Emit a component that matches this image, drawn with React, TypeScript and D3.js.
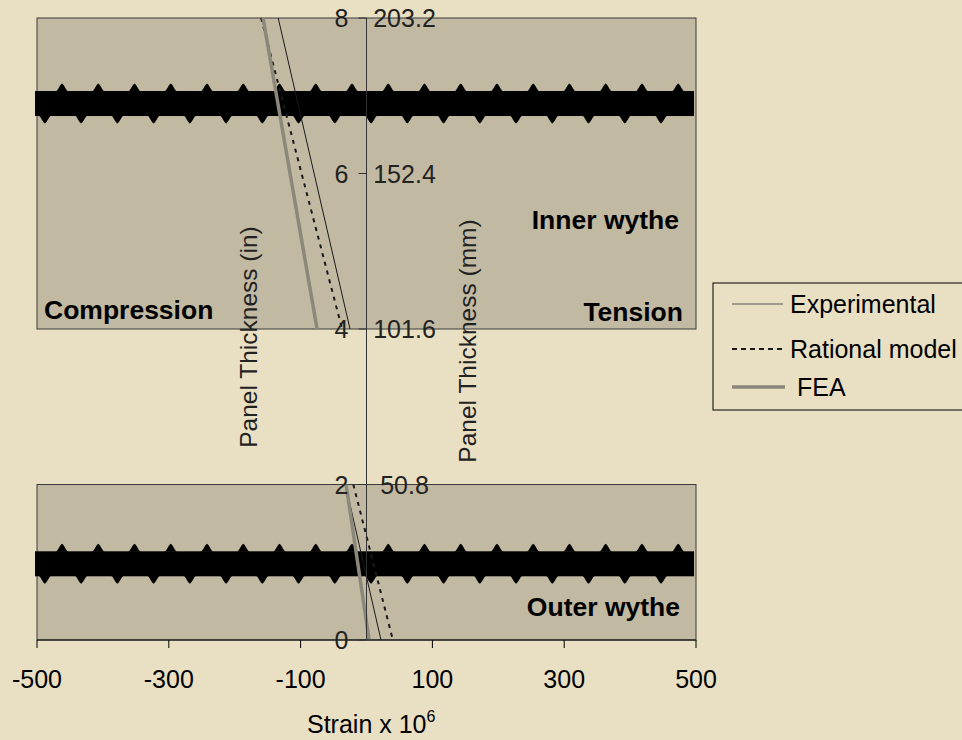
import React, { useEffect, useRef } from 'react';
import * as d3 from 'd3';

// strain (x 10^6) on x, depth through the panel (in) on y
const strainTicks = [-500, -300, -100, 100, 300, 500];
const depthTicks = [0, 2, 4, 6, 8];
const mmTicks = [2, 4, 6, 8];
const mmLabels = ['50.8', '101.6', '152.4', '203.2'];

const innerDepth = [8, 4];
const outerDepth = [2, 0];
const experimentalInner = [-134, -25];
const experimentalOuter = [-32, 22];
const rationalInner = [-160, -37];
const rationalOuter = [-20, 40];
const feaInner = [-157, -75];
const feaOuter = [-31, 4];

// wythes (in) and reinforcement bars
const wytheBands = [[4, 8], [0, 2]];
const rebarDepths = [6.9, 0.98];
const rebarSpan = [-503, 497];

const legendNames = ['Experimental', 'Rational model', 'FEA'];

const BG = '#e9dfc3';
const PANEL = '#c1b9a2';
const FONT = '"Liberation Sans", Arial, sans-serif';

const App = () => {
  const ref = useRef<SVGSVGElement>(null);

  useEffect(() => {
    const svg = d3.select(ref.current);
    svg.selectAll('*').remove();

    const x = d3.scaleLinear().domain([-500, 500]).range([37, 696]);
    const y = d3.scaleLinear().domain([0, 8]).range([640, 18]);

    svg.append('rect').attr('width', 962).attr('height', 740).attr('fill', BG);

    // wythe panels
    svg.append('g')
      .selectAll('rect')
      .data(wytheBands)
      .enter()
      .append('rect')
      .attr('x', x(-500))
      .attr('y', d => y(d[1]))
      .attr('width', x(500) - x(-500))
      .attr('height', d => y(d[0]) - y(d[1]))
      .attr('fill', PANEL)
      .attr('stroke', '#3a3a3a')
      .attr('stroke-width', 1);

    // rebars: thick band with ribs
    const bump = (cx: number, edge: number, dir: number) =>
      `M${cx - 7},${edge} C${cx - 4},${edge} ${cx - 2.5},${edge + dir * 7} ${cx},${edge + dir * 8} ` +
      `C${cx + 2.5},${edge + dir * 7} ${cx + 4},${edge} ${cx + 7},${edge} Z`;
    const upperRibs = d3.range(18).map(i => -462 + i * 55);
    const lowerRibs = d3.range(18).map(i => -488 + i * 55);
    rebarDepths.forEach(dep => {
      const cy = y(dep);
      const g = svg.append('g').attr('fill', '#000');
      g.append('rect')
        .attr('x', x(rebarSpan[0]))
        .attr('y', cy - 12.5)
        .attr('width', x(rebarSpan[1]) - x(rebarSpan[0]))
        .attr('height', 25);
      upperRibs.forEach(s => g.append('path').attr('d', bump(x(s), cy - 12, -1)));
      lowerRibs.forEach(s => g.append('path').attr('d', bump(x(s), cy + 12, 1)));
    });

    // series
    const line = d3.line<[number, number]>().x(d => x(d[0])).y(d => y(d[1]));
    const pair = (s: number[], d: number[]) => s.map((v, i) => [v, d[i]] as [number, number]);
    const styles = [
      { stroke: '#1a1a1a', width: 1, dash: null },
      { stroke: '#1a1a1a', width: 2, dash: '4,5' },
      { stroke: '#8b877a', width: 3.5, dash: null },
    ];
    const series = [
      [experimentalInner, experimentalOuter],
      [rationalInner, rationalOuter],
      [feaInner, feaOuter],
    ];
    series.forEach((sr, k) => {
      [pair(sr[0], innerDepth), pair(sr[1], outerDepth)].forEach(pts => {
        svg.append('path')
          .attr('d', line(pts))
          .attr('fill', 'none')
          .attr('stroke', styles[k].stroke)
          .attr('stroke-width', styles[k].width)
          .attr('stroke-dasharray', styles[k].dash);
      });
    });

    // x axis
    svg.append('line')
      .attr('x1', x(-500)).attr('x2', x(500))
      .attr('y1', y(0)).attr('y2', y(0))
      .attr('stroke', '#000');
    const xt = svg.append('g');
    strainTicks.forEach(t => {
      xt.append('line')
        .attr('x1', x(t)).attr('x2', x(t))
        .attr('y1', y(0)).attr('y2', y(0) + 8)
        .attr('stroke', '#000');
      xt.append('text')
        .attr('x', x(t)).attr('y', 688)
        .attr('text-anchor', 'middle')
        .attr('font-family', FONT).attr('font-size', 25)
        .text(t);
    });

    // y axis at zero strain
    svg.append('line')
      .attr('x1', x(0)).attr('x2', x(0))
      .attr('y1', y(0)).attr('y2', y(8))
      .attr('stroke', '#333');
    depthTicks.forEach(t => {
      svg.append('line')
        .attr('x1', x(0) - 8).attr('x2', x(0))
        .attr('y1', y(t)).attr('y2', y(t))
        .attr('stroke', '#333');
      svg.append('text')
        .attr('x', x(0) - 18).attr('y', y(t))
        .attr('dy', '0.36em')
        .attr('text-anchor', 'end')
        .attr('font-family', FONT).attr('font-size', 25)
        .attr('fill', '#222')
        .text(t);
    });
    mmTicks.forEach((t, i) => {
      svg.append('text')
        .attr('x', x(0) + 38).attr('y', y(t))
        .attr('dy', '0.36em')
        .attr('text-anchor', 'middle')
        .attr('font-family', FONT).attr('font-size', 25)
        .attr('fill', '#222')
        .text(mmLabels[i]);
    });

    // axis titles
    const title = (tx: number, ty: number, txt: string) =>
      svg.append('text')
        .attr('transform', `translate(${tx},${ty}) rotate(-90)`)
        .attr('text-anchor', 'middle')
        .attr('font-family', FONT).attr('font-size', 24.5)
        .attr('fill', '#222')
        .text(txt);
    title(257, 337, 'Panel Thickness (in)');
    title(476, 341, 'Panel Thickness (mm)');

    const st = svg.append('text')
      .attr('x', 307).attr('y', 733)
      .attr('font-family', FONT).attr('font-size', 25);
    st.append('tspan').text('Strain x 10');
    st.append('tspan').attr('font-size', 16).attr('dy', -11).text('6');

    // panel labels
    const label = (lx: number, ly: number, txt: string, anchor: string) =>
      svg.append('text')
        .attr('x', lx).attr('y', ly)
        .attr('text-anchor', anchor)
        .attr('font-family', FONT).attr('font-size', 26.5).attr('font-weight', 'bold')
        .text(txt);
    label(44, 319, 'Compression', 'start');
    label(683, 321, 'Tension', 'end');
    label(679, 229, 'Inner wythe', 'end');
    label(680, 616, 'Outer wythe', 'end');

    // legend
    const lg = svg.append('g');
    lg.append('rect')
      .attr('x', 713).attr('y', 283).attr('width', 260).attr('height', 127)
      .attr('fill', 'none').attr('stroke', '#000');
    const rowsY = [304, 349, 387];
    const textX = [790, 790, 797];
    legendNames.forEach((n, i) => {
      lg.append('line')
        .attr('x1', 732).attr('x2', i === 2 ? 785 : 783)
        .attr('y1', rowsY[i]).attr('y2', rowsY[i])
        .attr('stroke', i === 0 ? '#555' : styles[i].stroke)
        .attr('stroke-width', styles[i].width === 1 ? 1.2 : styles[i].width)
        .attr('stroke-dasharray', i === 1 ? '5,4' : null);
      lg.append('text')
        .attr('x', textX[i]).attr('y', rowsY[i])
        .attr('dy', '0.36em')
        .attr('font-family', FONT).attr('font-size', 25)
        .text(n);
    });
  }, []);

  return (
    <svg
      ref={ref}
      width={962}
      height={740}
      style={{ position: 'absolute', left: 0, top: 0, display: 'block' }}
    />
  );
};

export default App;
